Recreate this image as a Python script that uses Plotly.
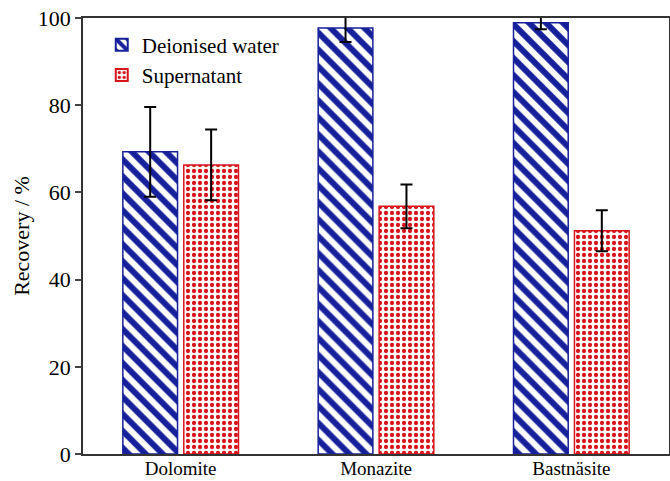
import plotly.graph_objects as go

categories = ["Dolomite", "Monazite", "Bastnäsite"]
deionised = [69.3, 97.7, 98.9]
deionised_err = [10.3, 3.2, 1.5]
supernatant = [66.3, 56.8, 51.2]
supernatant_err = [8.1, 5.0, 4.7]
y_ticks = [0, 20, 40, 60, 80, 100]

font_family = "Liberation Serif"
blue = "#16209a"
red = "#d8141c"

fig = go.Figure()
fig.add_trace(go.Bar(
    x=categories, y=deionised, name="Deionised water",
    width=0.28, offset=-0.296,
    marker=dict(color="white", line=dict(color=blue, width=1.5),
                pattern=dict(shape="\\", fgcolor=blue, bgcolor="white",
                             fgopacity=1, size=12, solidity=0.5,
                             fillmode="overlay")),
    error_y=dict(type="data", array=deionised_err, color="black",
                 thickness=2, width=6),
))
fig.add_trace(go.Bar(
    x=categories, y=supernatant, name="Supernatant",
    width=0.28, offset=0.016,
    marker=dict(color="white", line=dict(color=red, width=1.5),
                pattern=dict(shape=".", fgcolor=red, bgcolor="white",
                             fgopacity=1, size=6, solidity=0.4,
                             fillmode="overlay")),
    error_y=dict(type="data", array=supernatant_err, color="black",
                 thickness=2, width=6),
))

fig.update_layout(
    width=670, height=481,
    margin=dict(l=83, r=1, t=18, b=27, autoexpand=False),
    plot_bgcolor="white", paper_bgcolor="white",
    font=dict(family=font_family, color="black", size=20),
    showlegend=True,
    legend=dict(x=0.032, y=0.985, xanchor="left", yanchor="top",
                bgcolor="rgba(0,0,0,0)", font=dict(size=21, family=font_family),
                itemsizing="constant", tracegroupgap=0),
)
fig.update_xaxes(
    range=[-0.5, 2.5], showline=True, linecolor="#333", linewidth=1.5,
    mirror=True, ticks="", showgrid=False, tickfont=dict(size=19),
    automargin=False, ticklabelstandoff=-4,
)
fig.update_yaxes(
    range=[0, 100], tickvals=y_ticks, showline=True, linecolor="#333",
    linewidth=1.5, mirror=True, ticks="outside", ticklen=6, tickwidth=1.5,
    showgrid=False, zeroline=False, tickfont=dict(size=22), automargin=False,
    title=dict(text="Recovery / %", font=dict(size=22), standoff=2),
)

fig.write_html(
    "out.html",
    config={"displayModeBar": False},
    post_script="document.body.style.margin='0';document.body.style.padding='0';",
)
